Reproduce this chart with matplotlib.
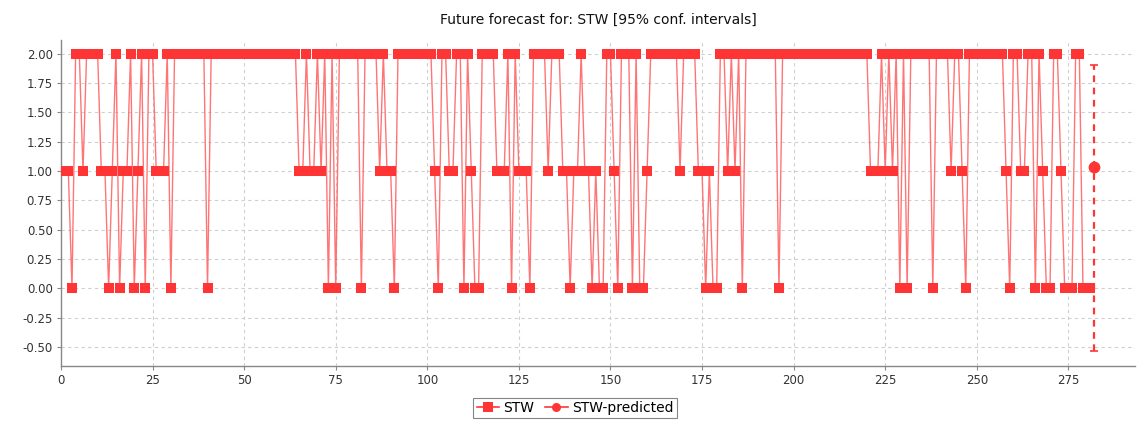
import numpy as np
import matplotlib
matplotlib.use('Agg')
import matplotlib.pyplot as plt
from matplotlib.lines import Line2D

# observed STW values, x = 1..281
stw_values = [
    1, 1, 0, 2, 2, 1, 2, 2, 2, 2,
    1, 1, 0, 1, 2, 0, 1, 1, 2, 0,
    1, 2, 0, 2, 2, 1, 1, 1, 2, 0,
    2, 2, 2, 2, 2, 2, 2, 2, 2, 0,
    2, 2, 2, 2, 2, 2, 2, 2, 2, 2,
    2, 2, 2, 2, 2, 2, 2, 2, 2, 2,
    2, 2, 2, 2, 1, 1, 2, 1, 1, 2,
    1, 2, 0, 2, 0, 2, 2, 2, 2, 2,
    2, 0, 2, 2, 2, 2, 1, 2, 1, 1,
    0, 2, 2, 2, 2, 2, 2, 2, 2, 2,
    2, 1, 0, 2, 2, 1, 1, 2, 2, 0,
    2, 1, 0, 0, 2, 2, 2, 2, 1, 1,
    1, 2, 0, 2, 1, 1, 1, 0, 2, 2,
    2, 2, 1, 2, 2, 2, 1, 1, 0, 1,
    1, 2, 1, 1, 0, 1, 0, 0, 2, 2,
    1, 0, 2, 2, 2, 0, 2, 0, 0, 1,
    2, 2, 2, 2, 2, 2, 2, 2, 1, 2,
    2, 2, 2, 1, 1, 0, 1, 0, 0, 2,
    2, 1, 2, 1, 2, 0, 2, 2, 2, 2,
    2, 2, 2, 2, 2, 0, 2, 2, 2, 2,
    2, 2, 2, 2, 2, 2, 2, 2, 2, 2,
    2, 2, 2, 2, 2, 2, 2, 2, 2, 2,
    1, 1, 1, 2, 1, 2, 1, 2, 0, 2,
    0, 2, 2, 2, 2, 2, 2, 0, 2, 2,
    2, 2, 1, 2, 2, 1, 0, 2, 2, 2,
    2, 2, 2, 2, 2, 2, 2, 1, 0, 2,
    2, 1, 1, 2, 2, 0, 2, 1, 0, 0,
    2, 2, 1, 0, 0, 0, 2, 2, 0, 0, 0,
]
stw_x = list(range(1, len(stw_values) + 1))

# forecast point with 95% interval
pred_x = [282]
pred_mean = [1.03]
pred_low = [-0.53]
pred_high = [1.90]

title = "Future forecast for: STW [95% conf. intervals]"
x_ticks = list(range(0, 276, 25))
y_ticks = [-0.5, -0.25, 0.0, 0.25, 0.5, 0.75, 1.0, 1.25, 1.5, 1.75, 2.0]

red = "#ff3535"
line_red = "#ff6666"
grid_col = "#cfcfcf"
axis_col = "#888888"

plt.rcParams["font.family"] = "DejaVu Sans"

fig = plt.figure(figsize=(11.39, 4.21), dpi=100)
fig.patch.set_facecolor("white")
ax = fig.add_axes([61 / 1139, 1 - 366 / 421, (1135 - 61) / 1139, (366 - 40) / 421])

ax.plot(stw_x, stw_values, color=line_red, lw=1.0, alpha=0.9, zorder=2)
ax.plot(stw_x, stw_values, ls="none", marker="s", markersize=7.2,
        markerfacecolor=red, markeredgewidth=0, zorder=3)

yerr = [[m - lo for m, lo in zip(pred_mean, pred_low)],
        [hi - m for m, hi in zip(pred_mean, pred_high)]]
eb = ax.errorbar(pred_x, pred_mean, yerr=yerr, fmt="o", color=red,
                 markersize=7.5, elinewidth=1.6, capsize=3, capthick=1.2, zorder=4)
eb[2][0].set_linestyle((0, (3, 2.5)))

ax.set_xlim(0, 293.2)
ax.set_ylim(-0.66, 2.115)
ax.set_xticks(x_ticks)
ax.set_yticks(y_ticks)
ax.set_yticklabels([f"{v:.2f}" for v in y_ticks])
ax.tick_params(axis="both", labelsize=8.5, colors="#333333", length=3,
               width=0.8, color=axis_col, pad=3)

ax.grid(True, color=grid_col, linestyle=(0, (3, 3)), linewidth=0.8)
ax.set_axisbelow(True)
for side in ["top", "right"]:
    ax.spines[side].set_visible(False)
for side in ["left", "bottom"]:
    ax.spines[side].set_color(axis_col)
    ax.spines[side].set_linewidth(1.0)

fig.text(598 / 1139, 1 - 20 / 421, title, ha="center", va="center",
         fontsize=10, color="#111111")

handles = [
    Line2D([], [], color=red, lw=1.2, marker="s", markersize=6.5,
           markeredgewidth=0),
    Line2D([], [], color=red, lw=1.2, marker="o", markersize=6.5,
           markeredgewidth=0),
]
leg = fig.legend(handles, ["STW", "STW-predicted"], loc="center",
                 bbox_to_anchor=(575 / 1139, 1 - 408 / 421), ncol=2,
                 fontsize=10, frameon=True, fancybox=False, handlelength=1.6,
                 handletextpad=0.3, columnspacing=0.8, borderpad=0.25,
                 edgecolor="#666666")
leg.get_frame().set_linewidth(0.8)

fig.savefig("out.png", dpi=100, facecolor="white")
plt.close(fig)
